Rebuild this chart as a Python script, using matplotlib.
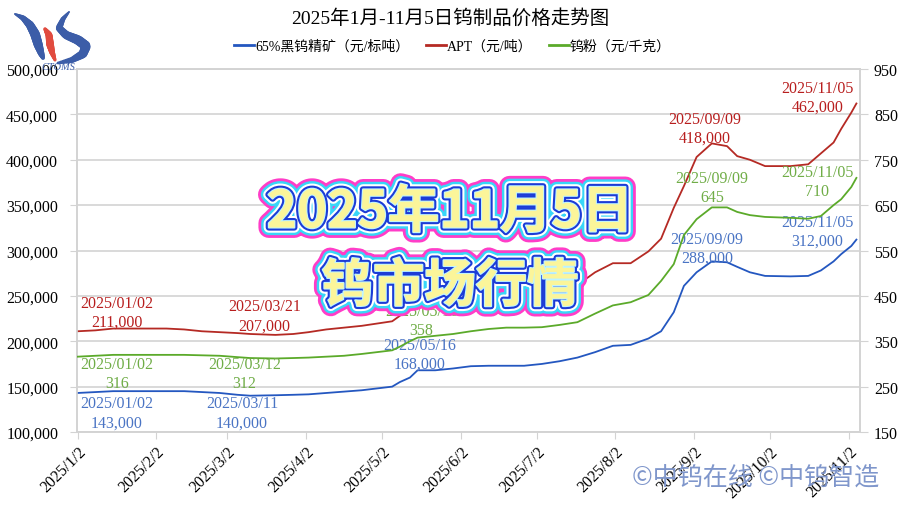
import matplotlib
matplotlib.use("Agg")
import matplotlib.pyplot as plt
import matplotlib.patheffects as pe
from matplotlib.lines import Line2D
import numpy as np
import pandas as pd

plt.rcParams['font.family'] = ['Liberation Serif', 'Noto Sans CJK SC']
plt.rcParams['axes.unicode_minus'] = False

# ---------------- data ----------------
dates = ['2025-01-02', '2025-01-09', '2025-01-16', '2025-01-23',
         '2025-02-06', '2025-02-13', '2025-02-20', '2025-02-27',
         '2025-03-06', '2025-03-11', '2025-03-21', '2025-03-28',
         '2025-04-03', '2025-04-10', '2025-04-17', '2025-04-24',
         '2025-05-06', '2025-05-09', '2025-05-13', '2025-05-16', '2025-05-23', '2025-05-30',
         '2025-06-06', '2025-06-13', '2025-06-20', '2025-06-27',
         '2025-07-04', '2025-07-11', '2025-07-18', '2025-07-25',
         '2025-08-01', '2025-08-08', '2025-08-15', '2025-08-20', '2025-08-25', '2025-08-29',
         '2025-09-03', '2025-09-09', '2025-09-15', '2025-09-19', '2025-09-24', '2025-09-30',
         '2025-10-10', '2025-10-17', '2025-10-22', '2025-10-27', '2025-10-30',
         '2025-11-03', '2025-11-05']

concentrate = [143000, 144000, 145000, 145000,
               145000, 145000, 144000, 143000,
               141000, 140000, 140500, 141000,
               141500, 143000, 144500, 146000,
               150000, 155000, 160000, 168000, 168000, 170000,
               172500, 173000, 173000, 173000,
               175000, 178000, 182000, 188000,
               195000, 196000, 203000, 211000, 232000, 261000,
               276000, 288000, 287000, 282000, 276000, 272000,
               271500, 272000, 278000, 288000, 296000,
               305000, 312000]

apt = [211000, 212000, 214000, 214000,
       214000, 213000, 211000, 210000,
       209000, 208000, 207000, 208000,
       210000, 213000, 215000, 217000,
       222000, 228000, 240000, 247000, 247000, 248000,
       250000, 252000, 252000, 253000,
       255000, 257000, 262000, 276000,
       286000, 286000, 299000, 313000, 347000, 371000,
       403000, 418000, 415000, 404000, 400000, 393000,
       393000, 395000, 407000, 419000, 434000,
       452000, 462000]

powder = [316, 318, 320, 320,
          320, 320, 319, 318,
          315, 313, 312, 313,
          314, 316, 318, 322,
          330, 338, 350, 358, 362, 366,
          372, 377, 380, 380,
          381, 386, 392, 411,
          429, 436, 452, 483, 520, 584,
          619, 645, 645, 635, 628, 624,
          622, 620, 626, 650, 663,
          690, 710]

conc_label_dates = ['2025-01-02', '2025-03-11', '2025-05-16', '2025-09-09', '2025-11-05']
conc_label_values = [143000, 140000, 168000, 288000, 312000]
apt_label_dates = ['2025-01-02', '2025-03-21', '2025-05-16', '2025-09-09', '2025-11-05']
apt_label_values = [211000, 207000, 247000, 418000, 462000]
powder_label_dates = ['2025-01-02', '2025-03-12', '2025-05-16', '2025-09-09', '2025-11-05']
powder_label_values = [316, 312, 358, 645, 710]

series_names = ['65%黑钨精矿（元/标吨）', 'APT（元/吨）', '钨粉（元/千克）']
left_ticks = [100000, 150000, 200000, 250000, 300000, 350000, 400000, 450000, 500000]
right_ticks = [150, 250, 350, 450, 550, 650, 750, 850, 950]
month_ticks = ['2025-01-02', '2025-02-02', '2025-03-02', '2025-04-02', '2025-05-02', '2025-06-02',
               '2025-07-02', '2025-08-02', '2025-09-02', '2025-10-02', '2025-11-02']
month_labels = ['2025/1/2', '2025/2/2', '2025/3/2', '2025/4/2', '2025/5/2', '2025/6/2',
                '2025/7/2', '2025/8/2', '2025/9/2', '2025/10/2', '2025/11/2']

title = '2025年1月-11月5日钨制品价格走势图'
overlay1 = '2025年11月5日'
overlay2 = '钨市场行情'
watermark = '©中钨在线 ©中钨智造'
logo_text = 'CTOMS'

# ---------------- styling ----------------
BLUE, RED, GREEN = '#2457C0', '#B52A24', '#5BAA2A'
BLUE_T, RED_T, GREEN_T = '#4A74C4', '#B81E1E', '#70AD47'
GRID = '#D3D3D3'

x = pd.to_datetime(dates)

fig = plt.figure(figsize=(9, 5.06), dpi=100)
ax = fig.add_axes([77 / 900, 73 / 506, 783 / 900, 363 / 506])
ax2 = ax.twinx()

ax.plot(x, apt, color=RED, lw=1.3, zorder=3)
ax.plot(x, concentrate, color=BLUE, lw=1.3, zorder=3)
ax2.plot(x, powder, color=GREEN, lw=1.3, zorder=3)

ax.set_ylim(100000, 500000)
ax2.set_ylim(150, 950)
ax.set_xlim(pd.Timestamp('2025-01-01 18:00'), pd.Timestamp('2025-11-06 10:00'))

ax.set_yticks(left_ticks)
ax.set_yticklabels([f'{v:,}' for v in left_ticks])
ax2.set_yticks(right_ticks)
ax2.set_yticklabels([str(v) for v in right_ticks])
ax.set_xticks(pd.to_datetime(month_ticks))
ax.set_xticklabels(month_labels, rotation=45, ha='right', va='top', rotation_mode='anchor')

ax.grid(axis='y', color=GRID, lw=1.2, zorder=0)
ax.set_axisbelow(True)
for a in (ax, ax2):
    for s in a.spines.values():
        s.set_color(GRID)
        s.set_linewidth(1.2)
ax.tick_params(axis='y', length=5, color=GRID, pad=8.5, labelsize=11.5)
ax2.tick_params(axis='y', length=6, color=GRID, pad=4, labelsize=11.5)
ax.tick_params(axis='x', length=5, color=GRID, pad=3, labelsize=11.5)

# ---------------- data labels ----------------
def add_labels(axis, ldates, lvals, color, offsets, fmt):
    for d, v, (dx, dy) in zip(ldates, lvals, offsets):
        axis.annotate(f'{d.replace("-", "/")}\n{fmt(v)}', xy=(pd.Timestamp(d), v),
                      xytext=(dx, dy), textcoords='offset pixels', ha='center', va='center',
                      color=color, fontsize=11.5, linespacing=1.25, zorder=4)

add_labels(ax, apt_label_dates, apt_label_values, RED_T,
           [(39, 19), (-11, 19), (-8, 20), (-7, 15), (-39, 6)], lambda v: f'{v:,}')
add_labels(ax, conc_label_dates, conc_label_values, BLUE_T,
           [(39, -20), (-8, -17), (2, 16), (-5, 13), (-39, 8)], lambda v: f'{v:,}')
add_labels(ax2, powder_label_dates, powder_label_values, GREEN_T,
           [(39, -17), (-8, -15), (4, 17), (0, 20), (-39, -4)], lambda v: f'{v}')

# ---------------- title and legend ----------------
fig.text(0.5, 1 - 18 / 506, title, ha='center', va='center', fontsize=14)
handles = [Line2D([], [], color=BLUE, lw=2), Line2D([], [], color=RED, lw=2),
           Line2D([], [], color=GREEN, lw=2)]
fig.legend(handles, series_names, loc='center', bbox_to_anchor=(0.503, 1 - 47 / 506), ncol=3,
           frameon=False, fontsize=10, handlelength=1.4, handletextpad=0.1, columnspacing=1.2)

# ---------------- overlay banner ----------------
banner_fx = [pe.Stroke(linewidth=15, foreground='#FF3DC8'),
             pe.Stroke(linewidth=11, foreground='#38D6F8'),
             pe.Stroke(linewidth=7.5, foreground='#FFFFFF'),
             pe.Stroke(linewidth=4.5, foreground='#1C3CD6'),
             pe.Stroke(linewidth=1.5, foreground='#BFF4FF'),
             pe.Normal()]
for txt, yy in ((overlay1, 213), (overlay2, 287)):
    fig.text(0.5, 1 - yy / 506, txt, ha='center', va='center', fontsize=37, fontweight='heavy',
             family=['Noto Sans CJK SC', 'DejaVu Sans'], color='#FBF59A', zorder=10,
             path_effects=banner_fx)

# ---------------- watermark ----------------
fig.text(756 / 900, 1 - 478 / 506, watermark, ha='center', va='center', fontsize=18,
         family=['Noto Sans CJK SC', 'DejaVu Sans'], color='#7F96CB', zorder=10)

# ---------------- logo (decorative) ----------------
lax = fig.add_axes([0, 1 - 80 / 506, 100 / 900, 80 / 506])
lax.set_xlim(0, 100)
lax.set_ylim(80, 0)
lax.axis('off')


def tapered(axis, px, py, widths, color):
    t = np.linspace(0, 1, len(px))
    tt = np.linspace(0, 1, 40)
    xs = np.interp(tt, t, px)
    ys = np.interp(tt, t, py)
    ws = np.interp(tt, t, widths)
    for i in range(len(tt) - 1):
        axis.plot(xs[i:i + 2], ys[i:i + 2], color=color, lw=ws[i], solid_capstyle='round')


tapered(lax, [15, 23, 30, 35, 38, 41, 43], [15, 19, 26, 35, 45, 54, 59],
        [1.5, 4, 6, 7, 6.5, 4.5, 2.5], '#3C5DA8')
tapered(lax, [45, 49, 50, 52, 55], [30, 36, 45, 53, 61], [2.5, 5, 5.5, 4, 2], '#E14B3F')
tapered(lax, [69, 63, 59, 66, 78, 86, 83, 72, 58], [13, 20, 29, 36, 41, 47, 55, 61, 64],
        [1.5, 3.5, 5, 6, 7, 7, 6, 4, 1.5], '#3C5DA8')
lax.text(58, 67, logo_text, fontsize=7.5, style='italic', color='#3C5DA8', ha='center',
         va='center')

fig.savefig('out.png', dpi=100)
